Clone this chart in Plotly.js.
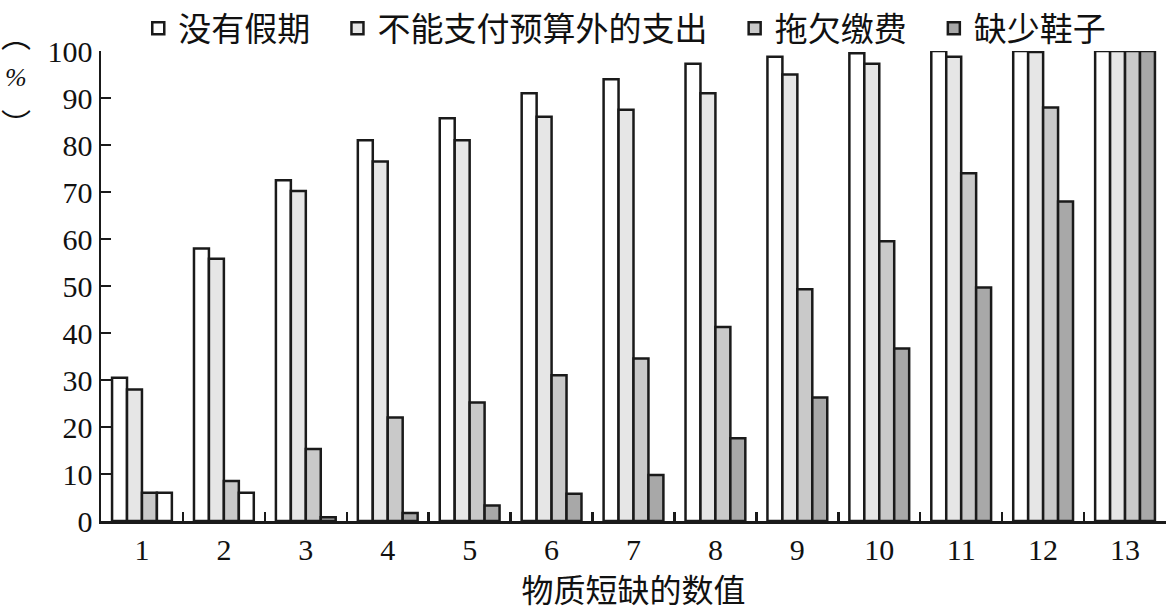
<!DOCTYPE html>
<html><head><meta charset="utf-8">
<script src="https://cdn.plot.ly/plotly-3.0.1.min.js"></script>
<style>html,body{margin:0;padding:0;background:#fff}#c{width:1166px;height:611px}</style>
</head><body><div id="c"></div>
<script>
const categories = ['1','2','3','4','5','6','7','8','9','10','11','12','13'];
const seriesNames = ['没有假期','不能支付预算外的支出','拖欠缴费','缺少鞋子'];
const noHoliday = [30.5, 58, 72.5, 81, 85.7, 91, 94, 97.3, 98.8, 99.5, 100, 100, 100];
const cantPay = [28, 55.8, 70.2, 76.5, 81, 86, 87.5, 91, 95, 97.3, 98.8, 99.8, 100];
const arrears = [6, 8.5, 15.3, 22, 25.2, 31, 34.6, 41.3, 49.3, 59.5, 74, 88, 100];
const noShoes = [6, 6, 0.8, 1.7, 3.3, 5.8, 9.8, 17.6, 26.3, 36.7, 49.7, 68, 100];
const yTicks = [0,10,20,30,40,50,60,70,80,90,100];

const colors = ['#ffffff','#e6e6e6','#c9c9c9','#a8a8a8'];
const groups = ['a','b','c','d'];
const line = {color: '#1a1a1a', width: 2.5};
const pad = '\u00a0\u00a0\u00a0';
const data = [noHoliday, cantPay, arrears, noShoes].map((vals, i) => ({
  type: 'bar', x: categories, y: vals, name: seriesNames[i] + pad, offsetgroup: groups[i],
  showlegend: i < 3,
  marker: {color: i === 3 ? vals.map((v, j) => j < 2 ? '#ffffff' : colors[3]) : colors[i], line: line}
}));
// legend entry for the 4th series (shares its offset group, draws nothing)
data.push({type: 'bar', x: [categories[0]], y: [null], name: seriesNames[3], offsetgroup: 'd',
  marker: {color: colors[3], line: line}});

const layout = {
  width: 1166, height: 611,
  margin: {l: 101, r: 0, t: 51, b: 90, autoexpand: false},
  paper_bgcolor: '#fff', plot_bgcolor: '#fff',
  barmode: 'group', bargap: 0.27, bargroupgap: 0,
  font: {family: '"Liberation Serif", "Noto Sans CJK SC", serif', color: '#111', size: 28},
  showlegend: true,
  legend: {orientation: 'h', x: 0.035, xanchor: 'left', y: 1.108, yanchor: 'top',
    font: {family: '"Noto Sans CJK SC", sans-serif', size: 33}, itemwidth: 30,
    traceorder: 'normal', tracegroupgap: 0, bgcolor: 'rgba(0,0,0,0)'},
  xaxis: {type: 'category', range: [-0.5, 12.5], showgrid: false, zeroline: false, showline: true,
    linecolor: '#1a1a1a', linewidth: 2.5, ticks: 'inside', ticklen: 9, tickwidth: 2.5,
    tickcolor: '#1a1a1a', tickson: 'boundaries',
    tickfont: {family: '"Liberation Serif", serif', size: 30},
    title: {text: '物质短缺的数值', standoff: 24,
      font: {family: '"Noto Sans CJK SC", sans-serif', size: 32}}},
  yaxis: {range: [0, 100], showgrid: false, zeroline: false, showline: true,
    linecolor: '#1a1a1a', linewidth: 2.5, ticks: 'inside', ticklen: 10, tickwidth: 2.5,
    tickcolor: '#1a1a1a', tickvals: yTicks, ticktext: yTicks.map(String),
    tickfont: {family: '"Liberation Serif", serif', size: 30}},
  annotations: [
    {xref: 'paper', yref: 'paper', x: -0.08, y: 0.985, text: '︵', showarrow: false,
      font: {family: '"Noto Sans CJK SC", sans-serif', size: 30}, xanchor: 'center', yanchor: 'bottom'},
    {xref: 'paper', yref: 'paper', x: -0.08, y: 0.943, text: '<i>%</i>', showarrow: false,
      font: {family: '"Liberation Serif", serif', size: 26}, xanchor: 'center', yanchor: 'middle'},
    {xref: 'paper', yref: 'paper', x: -0.08, y: 0.9, text: '︶', showarrow: false,
      font: {family: '"Noto Sans CJK SC", sans-serif', size: 30}, xanchor: 'center', yanchor: 'top'}
  ]
};
Plotly.newPlot('c', data, layout, {staticPlot: true, displayModeBar: false});
</script></body></html>
